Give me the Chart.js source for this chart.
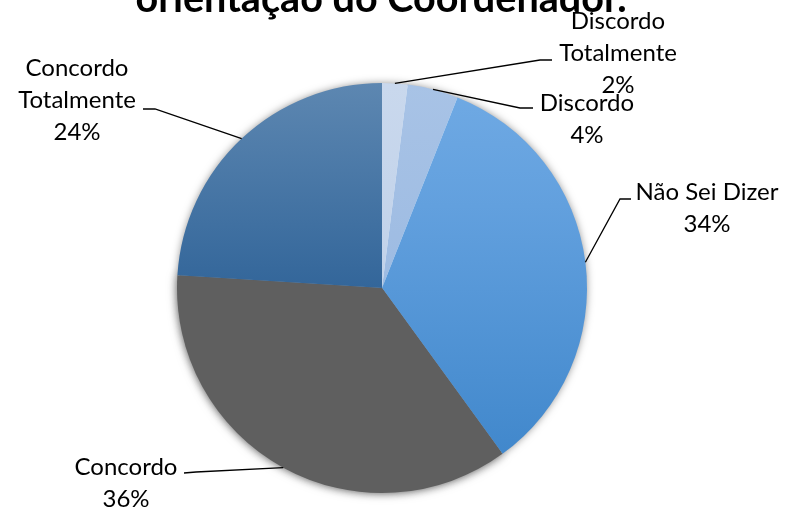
<!DOCTYPE html>
<html>
<head>
<meta charset="utf-8">
<script src="https://cdn.jsdelivr.net/npm/chart.js@4/dist/chart.umd.min.js"></script>
<style>
  html, body { margin: 0; padding: 0; background: #fff; }
  #wrap { width: 785px; height: 510px; position: relative; }
</style>
</head>
<body>
<div id="wrap"><canvas id="chartPie"></canvas></div>
<script>
// dados
const TITLE = 'orientação do Coordenador.';
const CATEGORIES = [['Discordo', 'Totalmente'], ['Discordo'], ['Não Sei Dizer'], ['Concordo'], ['Concordo', 'Totalmente']];
const VALUES = [2, 4, 34, 36, 24];

// layout das etiquetas (elbow, fim da linha, centro do texto)
const LABEL_POS = [
  { elbow: [540, 60], end: [552, 60], text: [618, 21] },
  { elbow: [520, 108], end: [533, 108], text: [587, 103] },
  { elbow: [620, 199], end: [631, 199], text: [707, 192] },
  { elbow: [196, 472], end: [184, 473], text: [126, 467] },
  { elbow: [155, 109], end: [143, 109], text: [77, 68] }
];
const LINE_H = 32;
const GRAY = '#5f5f5f';

function sliceColor(ctx){
  const chart = ctx.chart, a = chart.chartArea;
  if(!a) return '#888';
  const i = ctx.dataIndex;
  const g = chart.ctx.createLinearGradient(0, a.top, 0, a.bottom);
  if(i === 0){ g.addColorStop(0, '#c9d8ed'); g.addColorStop(1, '#b9cce6'); }
  else if(i === 1){ g.addColorStop(0, '#a8c3e6'); g.addColorStop(1, '#92b3de'); }
  else if(i === 2){ g.addColorStop(0, '#70aae4'); g.addColorStop(0.3, '#62a0de'); g.addColorStop(1, '#3c84c9'); }
  else if(i === 3){ return GRAY; }
  else { g.addColorStop(0, '#5d87b1'); g.addColorStop(0.5, '#33669a'); g.addColorStop(1, '#2f6194'); }
  return g;
}

// sombra externa + borda suave da fatia cinza
const shadowPlugin = {
  id: 'pieShadow',
  beforeDatasetsDraw(chart){
    const arcs = chart.getDatasetMeta(0).data;
    if(!arcs.length) return;
    const c = chart.ctx;
    const a0 = arcs[0];
    c.save();
    c.shadowColor = 'rgba(0,0,0,0.5)';
    c.shadowBlur = 9;
    c.fillStyle = '#fff';
    c.beginPath();
    c.arc(a0.x, a0.y, a0.outerRadius - 1, 0, Math.PI * 2);
    c.fill();
    c.restore();

    const g = arcs[3];
    c.save();
    c.shadowColor = 'rgba(95,95,95,0.95)';
    c.shadowBlur = 12;
    c.fillStyle = GRAY;
    c.beginPath();
    c.moveTo(g.x, g.y);
    c.arc(g.x, g.y, g.outerRadius - 2, g.startAngle, g.endAngle);
    c.closePath();
    c.fill();
    c.restore();
  }
};

// titulo + etiquetas com linhas de chamada
const labelPlugin = {
  id: 'pieLabels',
  afterDraw(chart){
    const c = chart.ctx;
    const total = VALUES.reduce((s, v) => s + v, 0);
    c.save();
    // titulo (cortado no topo, como no original)
    c.fillStyle = '#000';
    c.textAlign = 'center';
    c.textBaseline = 'alphabetic';
    c.font = 'bold 36px Lato';
    const w = c.measureText(TITLE).width;
    const fs = 36 * 492 / w;
    c.font = 'bold ' + fs.toFixed(1) + 'px Lato';
    c.fillText(TITLE, 381, 12);

    chart.getDatasetMeta(0).data.forEach((arc, i) => {
      const p = LABEL_POS[i];
      const mid = (arc.startAngle + arc.endAngle) / 2;
      const ax = arc.x + Math.cos(mid) * arc.outerRadius;
      const ay = arc.y + Math.sin(mid) * arc.outerRadius;
      c.strokeStyle = '#000';
      c.lineWidth = 1.3;
      c.beginPath();
      c.moveTo(ax, ay);
      c.lineTo(p.elbow[0], p.elbow[1]);
      c.lineTo(p.end[0], p.end[1]);
      c.stroke();

      const lines = CATEGORIES[i].concat([Math.round(VALUES[i] / total * 100) + '%']);
      c.font = '24px Lato';
      c.textBaseline = 'middle';
      c.fillStyle = '#000';
      lines.forEach((t, k) => c.fillText(t, p.text[0], p.text[1] + k * LINE_H));
    });
    c.restore();
  }
};

const ctx = document.getElementById('chartPie').getContext('2d');
new Chart(ctx, {
  type: 'pie',
  data: {
    labels: CATEGORIES.map(l => l.join(' ')),
    datasets: [{ data: VALUES, backgroundColor: sliceColor, borderWidth: 0, hoverOffset: 0 }]
  },
  options: {
    responsive: true,
    maintainAspectRatio: false,
    animation: false,
    events: [],
    layout: { padding: { top: 83, bottom: 17, left: 177, right: 198 } },
    plugins: { legend: { display: false }, tooltip: { enabled: false }, title: { display: false } }
  },
  plugins: [shadowPlugin, labelPlugin]
});
</script>
</body>
</html>
